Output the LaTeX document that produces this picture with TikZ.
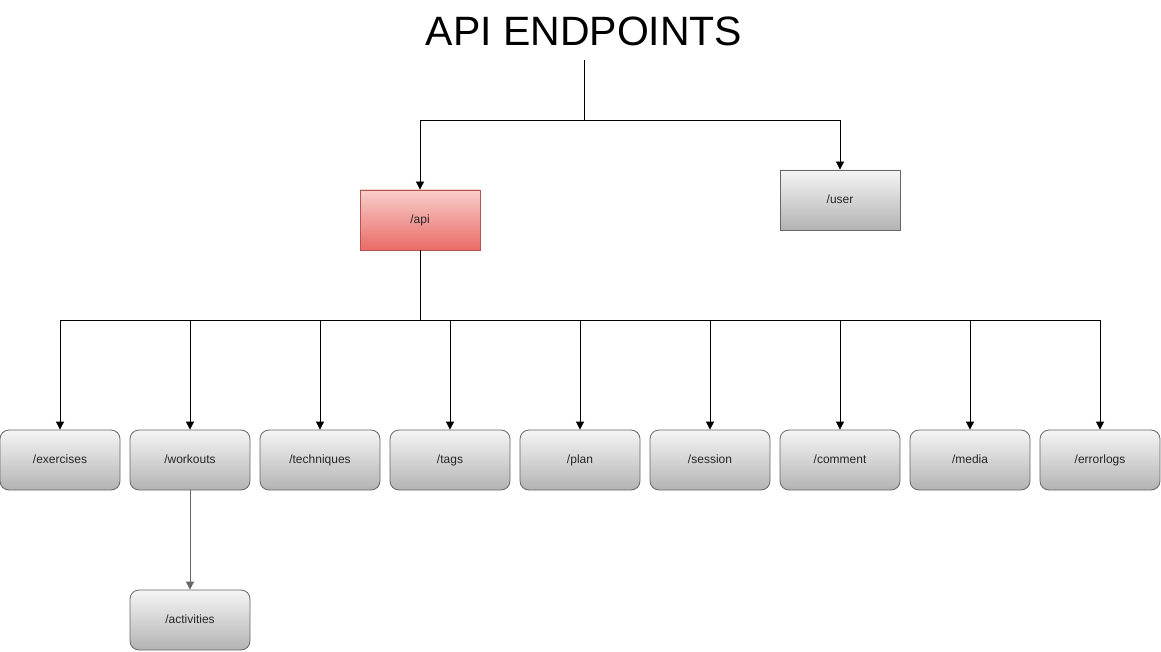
\documentclass[tikz,border=0pt]{standalone}
\usepackage{fontspec}
\setmainfont{Liberation Sans}
\usetikzlibrary{arrows.meta}
\definecolor{redtop}{HTML}{F8CECC}
\definecolor{redbot}{HTML}{EA6B66}
\definecolor{redline}{HTML}{B85450}
\definecolor{graytop}{HTML}{F5F5F5}
\definecolor{graybot}{HTML}{B3B3B3}
\definecolor{grayline}{HTML}{666666}
\tikzset{
  box/.style={draw=grayline, line width=0.8pt, top color=graytop, bottom color=graybot,
    minimum width=120pt, minimum height=60pt, inner sep=0pt, text height=8.6pt, text depth=2.5pt,
    font=\fontsize{12}{14}\selectfont, text=black!85},
  rbox/.style={box, rounded corners=9pt},
  apibox/.style={box, draw=redline, top color=redtop, bottom color=redbot},
  conn/.style={line width=0.8pt, draw=black},
  arr/.style={conn, -{Triangle[length=8pt,width=8pt]}},
  garr/.style={arr, draw=grayline, -{Triangle[length=8pt,width=8pt,fill=grayline]}}
}
\begin{document}
\begin{tikzpicture}[x=1pt,y=-1pt]
\useasboundingbox (0,0) rectangle (1161,652);
\node[font=\fontsize{41}{45}\selectfont] (title) at (584,31) {API ENDPOINTS};
\coordinate (top) at (584,60);
\coordinate (split) at (584,120);
\node[apibox] (api) at (420,220) {/api};
\node[box] (user) at (840,200) {/user};
\coordinate (bus) at (420,320);
\foreach \n/\x/\t in {exercises/60/exercises, workouts/190/workouts, techniques/320/techniques, tags/450/tags, plan/580/plan, session/710/session, comment/840/comment, media/970/media, errorlogs/1100/errorlogs}{
  \node[rbox] (\n) at (\x,460) {/\t};
}
\node[rbox] (activities) at (190,620) {/activities};
\draw[conn] (top) -- (split);
\draw[arr] (split) -| (api.north);
\draw[arr] (split) -| (user.north);
\draw[conn] (api.south) -- (bus);
\foreach \n in {exercises, workouts, techniques, tags, plan, session, comment, media, errorlogs}{
  \draw[arr] (bus) -| (\n.north);
}
\draw[garr] (workouts.south) -- (activities.north);
\end{tikzpicture}
\end{document}
